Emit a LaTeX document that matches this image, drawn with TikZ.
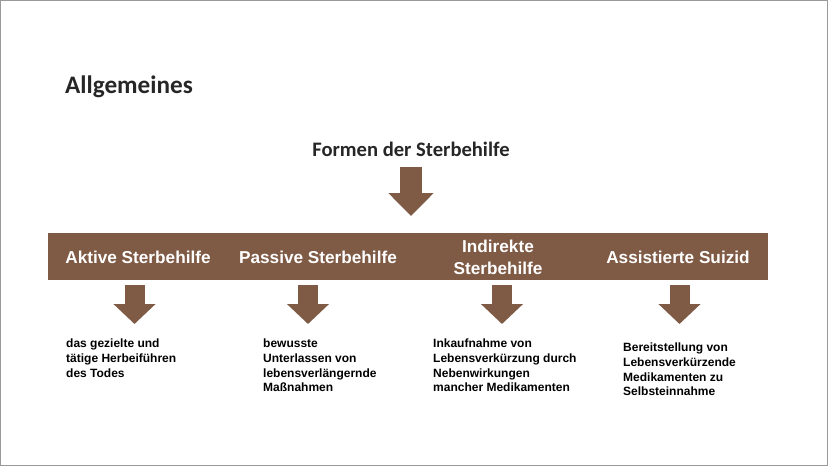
\documentclass[tikz,border=0pt]{standalone}
\usepackage{fontspec}
\setmainfont{Liberation Sans}
\newfontfamily\titlefont{Carlito}
\usetikzlibrary{arrows.meta}

\definecolor{braun}{HTML}{7F5A45}
\definecolor{schrift}{HTML}{262626}
\tikzset{
    bigarrow/.style={draw=braun, line width=22pt, -{Triangle[width=44pt, length=23pt]}},
    smallarrow/.style={draw=braun, line width=20pt, -{Triangle[width=41pt, length=20pt]}},
    headtext/.style={text=white, font=\fontsize{17.2}{22}\selectfont\bfseries, align=center},
    bodytext/.style={anchor=north west, text=black, inner sep=0pt, align=left, font=\fontsize{12}{14.7}\selectfont\bfseries}
}

\begin{document}
\begin{tikzpicture}[x=1pt, y=-1pt]
    \useasboundingbox (0,0) rectangle (828,466);
    \draw[gray!80, line width=2pt] (0,0) rectangle (828,466);

    \node[anchor=base west, inner sep=0pt, text=schrift, font=\fontsize{25.2}{28}\selectfont\titlefont\bfseries] (allgemein) at (65,93) {Allgemeines};
    \node[inner sep=0pt, text=schrift, font=\fontsize{20.6}{24}\selectfont\titlefont\bfseries] (formen) at (411,149.3) {Formen der Sterbehilfe};

    \node[rectangle, fill=braun, minimum width=720pt, minimum height=47pt, inner sep=0pt] (band) at (408,256.5) {};

    \node[headtext] (aktiv) at (138,257) {Aktive Sterbehilfe};
    \node[headtext] (passiv) at (318,257) {Passive Sterbehilfe};
    \node[headtext] (indirekt) at (498,257) {Indirekte\\Sterbehilfe};
    \node[headtext] (assist) at (678,257) {Assistierte Suizid};

    \node[bodytext] (gezielt) at (66,339) {das gezielte und\\tätige Herbeiführen\\des Todes};
    \node[bodytext] (unterlassen) at (263,339) {bewusste\\Unterlassen von\\lebensverlängernde\\Maßnahmen};
    \node[bodytext] (inkauf) at (433,339) {Inkaufnahme von\\Lebensverkürzung durch\\Nebenwirkungen\\mancher Medikamenten};
    \node[bodytext] (bereit) at (623,343) {Bereitstellung von\\Lebensverkürzende\\Medikamenten zu\\Selbsteinnahme};

    \coordinate (tip0) at (411,216);
    \coordinate (tip1) at (134.5,324);
    \coordinate (tip2) at (308,324);
    \coordinate (tip3) at (502,324);
    \coordinate (tip4) at (679.5,324);

    \draw[bigarrow, shorten <=9.7pt] (formen.south) -- (tip0);
    \draw[smallarrow, shorten <=5pt] (tip1 |- band.south) -- (tip1);
    \draw[smallarrow, shorten <=5pt] (tip2 |- band.south) -- (tip2);
    \draw[smallarrow, shorten <=5pt] (tip3 |- band.south) -- (tip3);
    \draw[smallarrow, shorten <=5pt] (tip4 |- band.south) -- (tip4);
\end{tikzpicture}
\end{document}
